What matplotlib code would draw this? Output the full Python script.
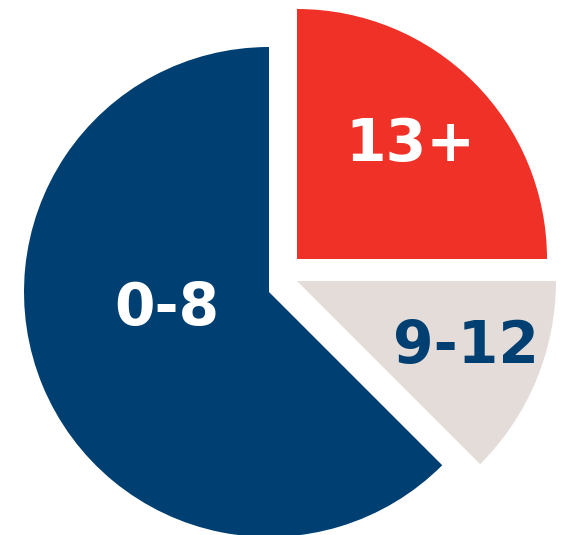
import matplotlib
matplotlib.use("Agg")
from matplotlib import pyplot as plt

# age groups, share of total (%)
groups = ["13+", "9-12", "0-8"]
shares = [25, 12.5, 62.5]
colors = ["#ef3127", "#e3dcd9", "#003f72"]
text_colors = ["white", "#003f72", "white"]

fig = plt.figure(figsize=(5.68, 5.35), dpi=100)
ax = fig.add_axes([0, 0, 1, 1])

wedges, _ = ax.pie(shares, colors=colors, startangle=90, counterclock=False,
                   radius=245, center=(269, 243))

# pull the slices apart like the original graphic (pixel units)
centers = [(297, 276), (297, 254), (269, 243)]
radii = [250, 259, 245]
for w, c, r in zip(wedges, centers, radii):
    w.set_center(c)
    w.set_radius(r)

label_pos = [(410, 390), (466, 189), (167, 227)]
for g, (x, y), tc in zip(groups, label_pos, text_colors):
    ax.text(x, y, g, color=tc, fontsize=42, fontweight="bold",
            ha="center", va="center", family="DejaVu Sans")

ax.set_xlim(0, 568)
ax.set_ylim(0, 535)
ax.set_aspect("auto")
ax.axis("off")

fig.savefig("out.png", dpi=100)
